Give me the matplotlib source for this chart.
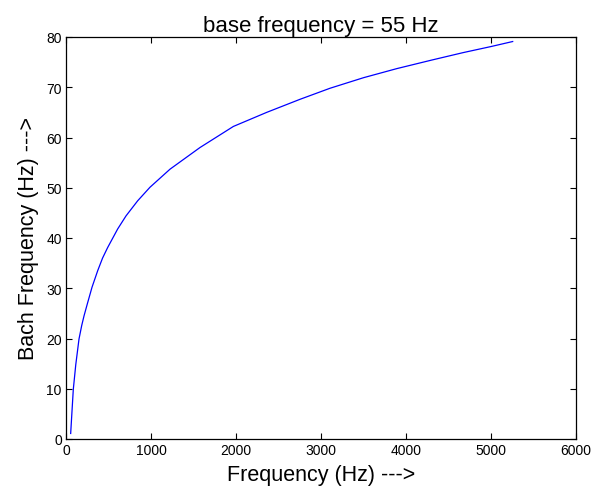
import matplotlib
matplotlib.use("Agg")
import matplotlib.pyplot as plt

plt.rcParams['font.family'] = ['Liberation Sans', 'DejaVu Sans']

freq_hz = [55, 68, 86, 115, 153, 185, 212, 251, 306, 373, 430, 490, 608, 706, 843,
           988, 1224, 1576, 1969, 2361, 2753, 3106, 3500, 3890, 4300, 4674, 5000, 5255]
bach_freq = [1.1, 4.8, 9.9, 14.8, 19.9, 22.6, 24.5, 26.9, 30.2, 33.5, 36.0, 38.1,
             41.8, 44.4, 47.4, 50.1, 53.7, 58.0, 62.2, 65.0, 67.6, 69.8, 71.9, 73.7,
             75.4, 76.9, 78.1, 79.1]

title = "base frequency = 55 Hz"
xlabel = "Frequency (Hz) --->"
ylabel = "Bach Frequency (Hz) --->"
xticks = [0, 1000, 2000, 3000, 4000, 5000, 6000]
yticks = [0, 10, 20, 30, 40, 50, 60, 70, 80]

fig = plt.figure(figsize=(5.99, 4.89), dpi=100)
ax = fig.add_axes([66/599, 1-440/489, 510/599, 402/489])
ax.plot(freq_hz, bach_freq, color='#0000ff', lw=0.9)
ax.set_xlim(0, 6000)
ax.set_ylim(0, 80)
ax.set_xticks(xticks)
ax.set_yticks(yticks)
ax.tick_params(direction='in', top=True, right=True, length=4, width=0.8, labelsize=10, pad=3)
for s in ax.spines.values():
    s.set_linewidth(0.9)
ax.set_title(title, fontsize=16, pad=4)
ax.set_xlabel(xlabel, fontsize=15.5, labelpad=5)
ax.set_ylabel(ylabel, fontsize=15.5, labelpad=5)
fig.savefig("out.png", dpi=100, facecolor='white')
